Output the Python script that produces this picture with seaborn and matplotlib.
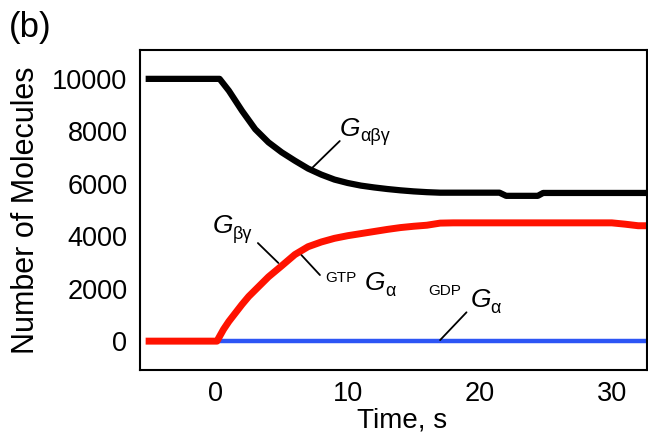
import numpy as np
import pandas as pd
import seaborn as sns
import matplotlib.pyplot as plt

# --- data (time in s, number of molecules) ---
t_gabg = [-5.3, 0.3, 1, 2, 3, 4, 5, 6, 7, 8, 9, 10, 11, 12, 13, 14, 15, 16,
          17, 18, 20, 21.5, 22.0, 24.4, 24.8, 28, 33]
n_gabg = [10000, 10000, 9550, 8780, 8080, 7580, 7200, 6880, 6580, 6350, 6160,
          6030, 5930, 5860, 5800, 5750, 5710, 5680, 5660, 5660, 5660, 5660,
          5540, 5540, 5650, 5650, 5650]

t_gbg = [-5.3, 0.1, 0.6, 1, 2, 2.5, 3, 4, 5, 6, 7, 8, 9, 10, 11, 12, 13, 14,
         15, 16, 17, 18, 20, 25, 30, 31, 32, 33]
n_gbg = [0, 0, 450, 750, 1400, 1700, 1950, 2450, 2870, 3300, 3600, 3780, 3920,
         4020, 4100, 4180, 4260, 4330, 4380, 4420, 4500, 4510, 4510, 4510,
         4510, 4460, 4400, 4400]

t_gdp = [-5.3, 33]
n_gdp = [0, 0]

df = pd.concat([
    pd.DataFrame({'t': t_gdp, 'n': n_gdp, 'species': 'GDP-Ga'}),
    pd.DataFrame({'t': t_gbg, 'n': n_gbg, 'species': 'Gbg'}),
    pd.DataFrame({'t': t_gabg, 'n': n_gabg, 'species': 'Gabg'}),
])

sns.set_style('white')
plt.rcParams['font.family'] = ['Liberation Sans', 'DejaVu Sans']
for key in ['text.color', 'axes.labelcolor', 'xtick.color', 'ytick.color']:
    plt.rcParams[key] = 'black'

fig = plt.figure(figsize=(6.48, 4.36), dpi=100)
ax = fig.add_axes([0.216, 0.1514, 0.7825, 0.7339])

colors = {'GDP-Ga': '#2d55f5', 'Gbg': '#ff1200', 'Gabg': 'black'}
widths = {'GDP-Ga': 3.2, 'Gbg': 5.0, 'Gabg': 4.5}
for sp in ['GDP-Ga', 'Gbg', 'Gabg']:
    sns.lineplot(data=df[df.species == sp], x='t', y='n', ax=ax,
                 color=colors[sp], lw=widths[sp], solid_capstyle='butt',
                 estimator=None, sort=False)

ax.set_xlim(-5.73, 32.67)
ax.set_ylim(-1100, 11100)
ax.set_xticks([0, 10, 20, 30])
ax.set_yticks([0, 2000, 4000, 6000, 8000, 10000])
ax.tick_params(axis='x', direction='in', length=6, width=1.3, pad=8, labelsize=19.5)
ax.tick_params(axis='y', direction='in', length=9, width=1.3, pad=9, labelsize=19.5)
for s in ax.spines.values():
    s.set_color('black')
    s.set_linewidth(1.5)

ax.set_xlabel('Time, s', fontsize=20)
ax.xaxis.set_label_coords(0.517, -0.118)
ax.set_ylabel('Number of Molecules', fontsize=22, labelpad=8)
fig.text(0.014, 0.975, '(b)', fontsize=25, va='top', ha='left')


def g_label(x, y, sub):
    # italic G with an upright greek subscript
    ax.text(x, y, 'G', fontsize=19, fontstyle='italic', va='baseline')
    ax.annotate(sub, xy=(x, y), xytext=(14.5, -4), textcoords='offset points',
                fontsize=13, va='baseline')


# --- curve labels with leader lines ---
line_kw = dict(color='black', lw=1.3)
ax.plot([7.3, 9.4], [6600, 7630], **line_kw)
g_label(9.4, 7840, 'αβγ')

ax.plot([3.2, 4.75], [3740, 2980], **line_kw)
g_label(-0.2, 4120, 'βγ')

ax.plot([6.5, 7.9], [3280, 2520], **line_kw)
ax.text(8.3, 2250, 'GTP', fontsize=11, va='baseline')
g_label(11.3, 1950, 'α')

ax.plot([17.0, 19.0], [40, 1100], **line_kw)
ax.text(16.1, 1760, 'GDP', fontsize=11, va='baseline')
g_label(19.3, 1300, 'α')

fig.savefig('out.png', dpi=100)
